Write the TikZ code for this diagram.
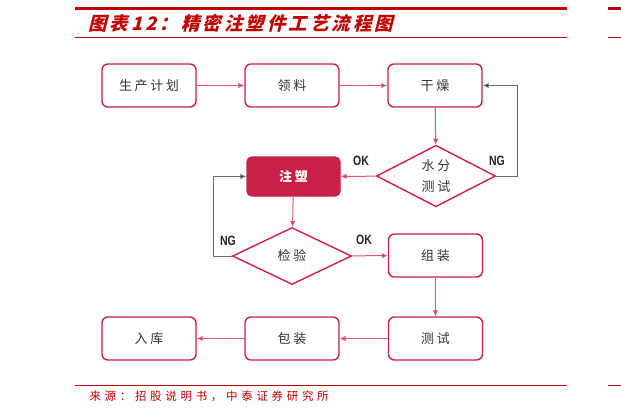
\documentclass[tikz,border=0pt]{standalone}
\usepackage{fontspec}
\usepackage{tikz}
\usetikzlibrary{shapes.geometric,arrows.meta}
\newfontfamily\cjk{Noto Sans CJK SC}[LetterSpace=20]
\newfontfamily\cjksrc{Noto Sans CJK SC}[LetterSpace=32]
\newfontfamily\cjktitle{Noto Sans CJK SC}[FakeSlant=0.25,LetterSpace=16]
\newfontfamily\cond{Liberation Sans}[FakeStretch=0.78]
\definecolor{hdred}{RGB}{192,0,0}
\definecolor{boxred}{RGB}{200,32,72}
\definecolor{linkred}{RGB}{226,86,116}
\definecolor{nggray}{RGB}{110,110,110}

\begin{document}
\begin{tikzpicture}[x=1pt,y=-1pt,
    stepbox/.style={draw=boxred,line width=1.4pt,rounded corners=6pt,fill=white,
      minimum width=94pt,minimum height=43pt,font=\cjk\fontsize{13}{15}\selectfont,text=black!80},
    moldbox/.style={draw=boxred,line width=1.4pt,rounded corners=5pt,fill=boxred,
      minimum width=93pt,minimum height=39pt,font=\cjk\bfseries\fontsize{13}{15}\selectfont,text=white},
    testbox/.style={draw=boxred,line width=1.4pt,diamond,inner sep=0pt,fill=white,
      minimum width=119pt,minimum height=57pt,font=\cjk\fontsize{13}{21}\selectfont,text=black!80,align=center},
    flow/.style={draw=linkred,line width=1pt,-{Latex[length=6pt,width=5.5pt,fill=boxred]}},
    back/.style={draw=nggray,line width=1pt,-{Latex[length=6pt,width=5.5pt,fill=black]}},
    tag/.style={font=\cond\bfseries\fontsize{13.5}{15}\selectfont,text=black!85}]
  \useasboundingbox (0,0) rectangle (621,413);
  \fill[white] (0,0) rectangle (621,413);

  \draw[hdred,line width=3pt] (75,8) -- (567,8);
  \draw[hdred,line width=3pt] (608,8) -- (621,8);
  \draw[hdred,line width=1pt] (75,37) -- (567,37);
  \draw[hdred,line width=1pt] (608,37) -- (621,37);
  \node[anchor=west,text=hdred,font=\cjktitle\bfseries\fontsize{18.5}{20}\selectfont] (title) at (85,23) {图表12：精密注塑件工艺流程图};

  \node[stepbox] (plan) at (149,85.5) {生产计划};
  \node[stepbox] (pick) at (292,85.5) {领料};
  \node[stepbox] (dry) at (435,85.5) {干燥};
  \node[testbox] (water) at (436,176) {水分\\测试};
  \node[moldbox] (mold) at (293.5,176.5) {注塑};
  \node[testbox] (check) at (292,256) {检验};
  \node[stepbox] (assemble) at (435.5,255.5) {组装};
  \node[stepbox] (test) at (435.5,338.5) {测试};
  \node[stepbox] (pack) at (292,338.5) {包装};
  \node[stepbox] (store) at (149,338.5) {入库};

  \coordinate (ngright) at (517,176);
  \coordinate (ngleft) at (213,256);

  \draw[flow] (plan) -- (pick);
  \draw[flow] (pick) -- (dry);
  \draw[flow] (dry) -- (water);
  \draw[flow] (water) -- (mold);
  \draw[back] (water.east) -- (ngright) |- (dry.east);
  \draw[flow] (mold) -- (check);
  \draw[back] (check.west) -- (ngleft) |- (mold.west);
  \draw[flow] (check) -- (assemble);
  \draw[flow] (assemble) -- (test);
  \draw[flow] (test) -- (pack);
  \draw[flow] (pack) -- (store);

  \node[tag] (okwater) at (361,161) {OK};
  \node[tag] (ngwater) at (497,161) {NG};
  \node[tag] (ngcheck) at (228,241) {NG};
  \node[tag] (okcheck) at (364,240) {OK};

  \draw[hdred,line width=1pt] (75,385) -- (567,385);
  \draw[hdred,line width=1pt] (608,385) -- (621,385);
  \node[anchor=west,text=hdred,font=\cjksrc\fontsize{11.5}{13}\selectfont] (source) at (86,396) {来源：招股说明书，中泰证券研究所};
\end{tikzpicture}
\end{document}
